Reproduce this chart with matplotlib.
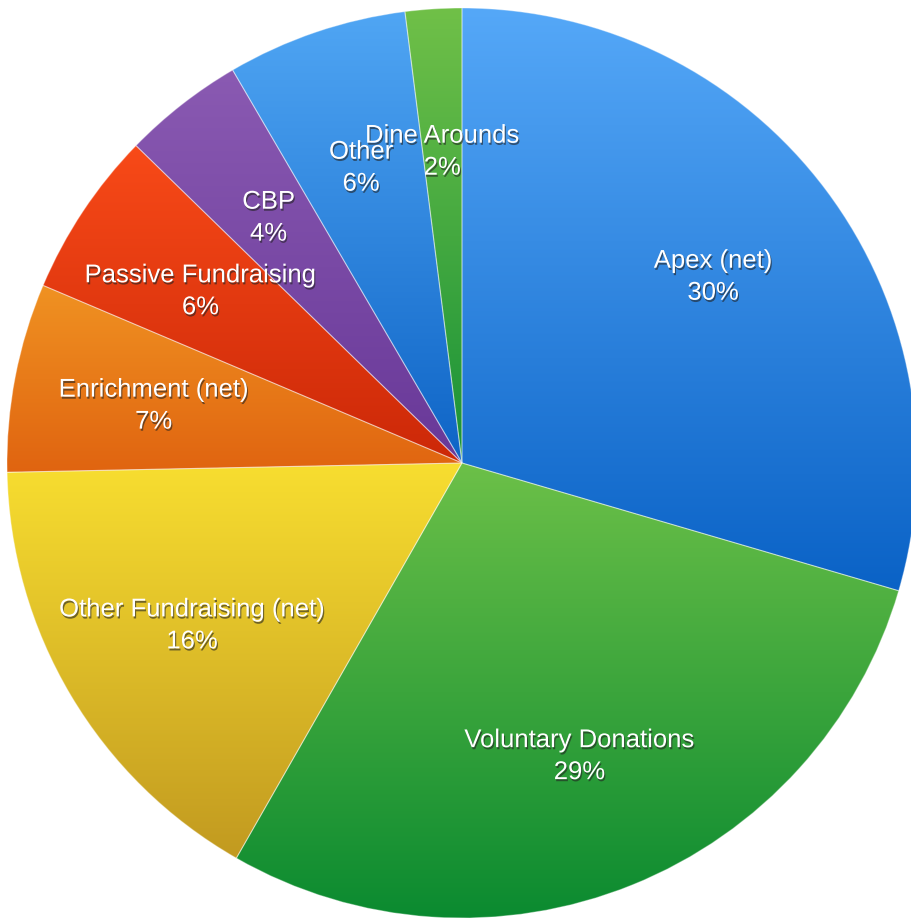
import numpy as np
import matplotlib
matplotlib.use("Agg")
import matplotlib.pyplot as plt
from matplotlib.colors import LinearSegmentedColormap
import matplotlib.patheffects as pe

categories = ["Apex (net)", "Voluntary Donations", "Other Fundraising (net)",
              "Enrichment (net)", "Passive Fundraising", "CBP", "Other", "Dine Arounds"]
values = [29.5, 28.7, 16.4, 6.7, 5.9, 4.3, 6.4, 2.0]
pct_labels = ["30%", "29%", "16%", "7%", "6%", "4%", "6%", "2%"]
top_colors = ["#55a8f8", "#6cc048", "#f8de30", "#f09222", "#f84a18", "#8a5ab2", "#50a6f4", "#70c048"]
bottom_colors = ["#0a62c6", "#0a8a30", "#c29a20", "#e06410", "#cc2808", "#683898", "#0e64c6", "#189238"]

W, H = 912, 918
fig = plt.figure(figsize=(W / 100, H / 100), dpi=100)
ax = fig.add_axes([0, 0, 1, 1])
cx, cy, R = 462, H - 463, 455

wedges, _ = ax.pie(values, startangle=90, counterclock=False, radius=R,
                   center=(cx, cy), frame=True,
                   wedgeprops=dict(facecolor="none", edgecolor=(1, 1, 1, 0.35), linewidth=0.8))

grad = np.linspace(0, 1, 256).reshape(-1, 1)
for w, c0, c1 in zip(wedges, top_colors, bottom_colors):
    verts = w.get_path().vertices
    ymin, ymax = verts[:, 1].min(), verts[:, 1].max()
    cmap = LinearSegmentedColormap.from_list("g", [c1, c0])
    im = ax.imshow(grad, cmap=cmap, extent=[cx - R, cx + R, ymin, ymax],
                   origin="lower", aspect="auto", zorder=1, interpolation="bilinear")
    im.set_clip_path(w)
    w.set_zorder(2)

for w, cat, p in zip(wedges, categories, pct_labels):
    ang = np.deg2rad((w.theta1 + w.theta2) / 2)
    r = 0.69 * R
    x = cx + r * np.cos(ang)
    y = cy + r * np.sin(ang)
    ax.text(x, y - 2, f"{cat}\n{p}", ha="center", va="center", fontsize=18.5,
            family=["Liberation Sans", "DejaVu Sans"], color="white",
            linespacing=1.42, zorder=5,
            path_effects=[pe.SimplePatchShadow(offset=(0.8, -1.5), shadow_rgbFace="#222222", alpha=0.6),
                          pe.Normal()])

ax.set_xlim(0, W)
ax.set_ylim(0, H)
ax.set_aspect("auto")
ax.axis("off")
fig.savefig("out.png", dpi=100)
